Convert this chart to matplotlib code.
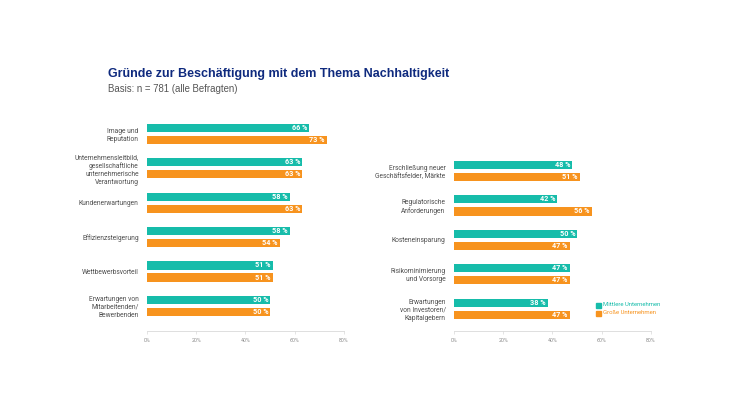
import matplotlib.pyplot as plt
import numpy as np

left_labels = ["Image und\nReputation",
               "Unternehmensleitbild,\ngesellschaftliche\nunternehmerische\nVerantwortung",
               "Kundenerwartungen", "Effizienzsteigerung", "Wettbewerbsvorteil",
               "Erwartungen von\nMitarbeitenden/\nBewerbenden"]
left_mid = [66, 63, 58, 58, 51, 50]
left_big = [73, 63, 63, 54, 51, 50]

right_labels = ["Erschließung neuer\nGeschäftsfelder, Märkte", "Regulatorische\nAnforderungen",
                "Kosteneinsparung", "Risikominimierung\nund Vorsorge",
                "Erwartungen\nvon Investoren/\nKapitalgebern"]
right_mid = [48, 42, 50, 47, 38]
right_big = [51, 56, 47, 47, 47]

ticks = [0, 20, 40, 60, 80]
series_names = ["Mittlere Unternehmen", "Große Unternehmen"]

TEAL = "#16BCAA"
ORANGE = "#F7931E"
LABEL = "#4d4d4d"
GRID = "#d9d9d9"

plt.rcParams['font.family'] = ['Roboto', 'DejaVu Sans']

fig = plt.figure(figsize=(7.32, 4.12), dpi=100)


def draw_panel(ax, labels, mid, big, ylim):
    y = np.arange(len(labels))
    h = 0.235
    off = 0.175
    ax.barh(y - off, mid, height=h, color=TEAL)
    ax.barh(y + off, big, height=h, color=ORANGE)
    for yi, v in zip(y - off, mid):
        ax.text(v - 0.8, yi, f"{v} %", ha='right', va='center', color='white',
                fontsize=5.2, fontweight='bold')
    for yi, v in zip(y + off, big):
        ax.text(v - 0.8, yi, f"{v} %", ha='right', va='center', color='white',
                fontsize=5.2, fontweight='bold')
    ax.set_xlim(0, 80)
    ax.set_ylim(*ylim)
    ax.set_xticks(ticks)
    ax.set_xticklabels([f"{t}%" for t in ticks], fontsize=3.8, color='#8a8a8a')
    ax.set_yticks(y)
    ax.set_yticklabels(labels, fontsize=4.8, color=LABEL, linespacing=1.2)
    ax.tick_params(axis='y', length=0, pad=6)
    ax.tick_params(axis='x', length=2, width=0.5, color=GRID, pad=3)
    for s in ['top', 'right', 'left']:
        ax.spines[s].set_visible(False)
    ax.spines['bottom'].set_color(GRID)
    ax.spines['bottom'].set_linewidth(0.6)


ax1 = fig.add_axes([0.2008, 0.1966, 0.2691, 0.5243])
draw_panel(ax1, left_labels, left_mid, left_big, (5.73, -0.55))

ax2 = fig.add_axes([0.6202, 0.1966, 0.2691, 0.5243])
draw_panel(ax2, right_labels, right_mid, right_big, (4.65, -1.63))

# legend
for i, (name, col) in enumerate(zip(series_names, [TEAL, ORANGE])):
    yy = 1 - (305 + i * 8) / 412
    fig.patches.append(plt.Rectangle((596 / 732, yy - 0.008), 0.0068, 0.0125,
                                     transform=fig.transFigure, color=col))
    fig.text(603 / 732, yy, name, fontsize=4.3, color=col, va='center', ha='left')

fig.text(108 / 732, 1 - 74 / 412, "Gründe zur Beschäftigung mit dem Thema Nachhaltigkeit",
         fontsize=9.0, fontweight='bold', color='#0f2a7e', va='center',
         family=['Liberation Sans', 'DejaVu Sans'])
fig.text(108 / 732, 1 - 89 / 412, "Basis: n = 781 (alle Befragten)",
         fontsize=6.9, color='#555555', va='center', family=['Liberation Sans', 'DejaVu Sans'])

fig.savefig("out.png", dpi=100)
